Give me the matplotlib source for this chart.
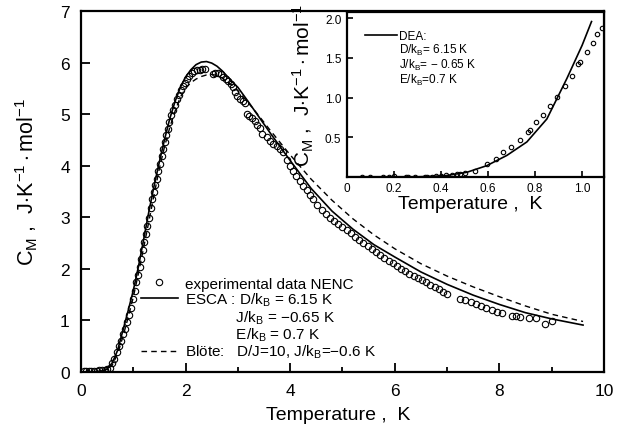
import matplotlib
matplotlib.use("Agg")
import matplotlib.pyplot as plt
from matplotlib.lines import Line2D

plt.rcParams['font.family'] = ['Liberation Sans', 'DejaVu Sans']
plt.rcParams['mathtext.fontset'] = 'custom'
plt.rcParams['mathtext.rm'] = 'Liberation Sans'
plt.rcParams['mathtext.it'] = 'Liberation Sans:italic'

# experimental data NENC (main panel)
exp_T = [0.05, 0.1, 0.15, 0.2, 0.25, 0.3, 0.35, 0.4, 0.45, 0.5, 0.55,
         0.60, 0.64, 0.68, 0.72, 0.76, 0.80, 0.84, 0.88, 0.92, 0.96, 1.00,
         1.03, 1.06, 1.09, 1.12, 1.15, 1.18, 1.21, 1.24, 1.27, 1.30, 1.33,
         1.36, 1.39, 1.42, 1.45, 1.48, 1.51, 1.54, 1.57, 1.60, 1.63, 1.66,
         1.69, 1.72, 1.75, 1.79, 1.83, 1.87, 1.91, 1.95, 1.99, 2.03, 2.07,
         2.12, 2.17, 2.22, 2.27, 2.32, 2.37,
         2.52, 2.57, 2.62, 2.67, 2.72, 2.77, 2.82, 2.87, 2.91, 2.95, 2.99,
         3.04, 3.09, 3.14, 3.17, 3.22, 3.27, 3.32, 3.37, 3.42, 3.47, 3.56,
         3.62, 3.68, 3.74, 3.80, 3.86, 3.94, 4.00, 4.06, 4.12, 4.18, 4.25,
         4.32, 4.38, 4.44, 4.52, 4.60, 4.68, 4.76, 4.84, 4.92, 5.00, 5.08,
         5.16, 5.24, 5.32, 5.40, 5.48, 5.56, 5.64, 5.72, 5.80, 5.88, 5.96,
         6.04, 6.12, 6.20, 6.28, 6.36, 6.44, 6.52, 6.60, 6.68, 6.76, 6.84,
         6.92, 7.00,
         7.25, 7.35, 7.45, 7.55, 7.65, 7.75, 7.85, 7.95, 8.05, 8.25, 8.32,
         8.40, 8.56, 8.70, 8.87, 9.00]
exp_C = [0.02, 0.02, 0.02, 0.02, 0.02, 0.02, 0.03, 0.03, 0.04, 0.05, 0.08,
         0.17, 0.26, 0.38, 0.50, 0.61, 0.73, 0.84, 0.97, 1.11, 1.25, 1.42,
         1.58, 1.74, 1.88, 2.03, 2.20, 2.37, 2.53, 2.68, 2.83, 2.99, 3.18,
         3.35, 3.50, 3.62, 3.75, 3.90, 4.04, 4.18, 4.32, 4.46, 4.60, 4.72,
         4.85, 4.98, 5.08, 5.18, 5.29, 5.38, 5.46, 5.54, 5.61, 5.68, 5.74,
         5.79, 5.83, 5.85, 5.86, 5.87, 5.88,
         5.78, 5.80, 5.79, 5.78, 5.72, 5.68, 5.64, 5.58, 5.52, 5.43, 5.36,
         5.30, 5.26, 5.22, 5.00, 4.96, 4.92, 4.86, 4.79, 4.74, 4.62, 4.55,
         4.48, 4.43, 4.38, 4.32, 4.26, 4.12, 4.00, 3.89, 3.80, 3.71, 3.61,
         3.52, 3.43, 3.35, 3.24, 3.15, 3.07, 2.99, 2.93, 2.87, 2.81, 2.75,
         2.69, 2.62, 2.56, 2.50, 2.44, 2.38, 2.33, 2.27, 2.22, 2.16, 2.11,
         2.05, 2.00, 1.95, 1.91, 1.86, 1.82, 1.78, 1.74, 1.69, 1.65, 1.61,
         1.56, 1.52,
         1.42, 1.39, 1.36, 1.32, 1.28, 1.24, 1.20, 1.17, 1.14, 1.08, 1.08,
         1.07, 1.05, 1.04, 0.93, 0.99]

# ESCA fit (solid) and Blote (dashed)
fit_T = [0.0, 0.2, 0.3, 0.4, 0.5, 0.6, 0.7, 0.8, 0.9, 1.0, 1.1, 1.2, 1.3,
         1.4, 1.5, 1.6, 1.7, 1.8, 1.9, 2.0, 2.1, 2.2, 2.3, 2.4, 2.5, 2.6,
         2.7, 2.8, 2.9, 3.0, 3.2, 3.4, 3.6, 3.8, 4.0, 4.4, 4.8, 5.2, 5.6,
         6.0, 6.5, 7.0, 7.5, 8.0, 8.5, 9.0, 9.6]
esca_C = [0.0, 0.0, 0.005, 0.02, 0.06, 0.18, 0.42, 0.80, 1.18, 1.58, 2.05,
          2.58, 3.12, 3.62, 4.08, 4.52, 4.92, 5.25, 5.52, 5.72, 5.86, 5.96,
          6.01, 6.02, 5.99, 5.93, 5.84, 5.73, 5.62, 5.52, 5.24, 4.95, 4.66,
          4.38, 4.10, 3.56, 3.12, 2.77, 2.47, 2.23, 1.94, 1.70, 1.49, 1.31,
          1.15, 1.03, 0.91]
blote_C = [0.0, 0.0, 0.005, 0.015, 0.05, 0.14, 0.35, 0.68, 1.05, 1.45, 1.92,
           2.42, 2.93, 3.45, 3.95, 4.38, 4.75, 5.06, 5.33, 5.50, 5.61, 5.68,
           5.73, 5.76, 5.77, 5.75, 5.70, 5.63, 5.55, 5.45, 5.22, 4.97, 4.71,
           4.46, 4.21, 3.74, 3.33, 2.97, 2.66, 2.39, 2.10, 1.86, 1.65, 1.46,
           1.28, 1.12, 0.98]

# inset: low temperature data and DEA curve
ins_T = [0.065, 0.098, 0.155, 0.18, 0.20, 0.25, 0.26, 0.29, 0.33, 0.34, 0.36,
         0.38, 0.40, 0.42, 0.445, 0.467, 0.48, 0.50, 0.545, 0.594, 0.633,
         0.663, 0.697, 0.736, 0.769, 0.779, 0.804, 0.835, 0.864, 0.892,
         0.928, 0.956, 0.984, 0.99, 1.02, 1.045, 1.063, 1.084]
ins_C = [0.0, 0.0, 0.0, 0.0, 0.01, 0.0, 0.0, 0.0, 0.0, 0.0, 0.0,
         0.01, 0.014, 0.02, 0.027, 0.035, 0.04, 0.048, 0.077, 0.16, 0.23,
         0.31, 0.37, 0.46, 0.56, 0.59, 0.69, 0.78, 0.89, 1.01,
         1.15, 1.27, 1.42, 1.45, 1.58, 1.69, 1.80, 1.88]
dea_T = [0.0, 0.2, 0.3, 0.35, 0.42, 0.51, 0.594, 0.68, 0.765, 0.85, 0.935,
         1.0, 1.04]
dea_C = [0.0, 0.0, 0.0, 0.004, 0.014, 0.057, 0.14, 0.27, 0.44, 0.73, 1.24,
         1.66, 1.96]

ylab = r"C$_\mathrm{M}$ ,  J$\cdot$K$^{-1}\cdot$mol$^{-1}$"
xlab = "Temperature ,  K"

fig = plt.figure(figsize=(6.21, 4.35), dpi=100)
ax = fig.add_axes([0.1304, 0.1425, 0.8422, 0.8299])

ax.plot(exp_T, exp_C, 'o', mfc='none', mec='k', ms=4.6, mew=0.8,
        label='experimental data NENC')
ax.plot(fit_T, esca_C, '-', color='k', lw=1.2)
ax.plot(fit_T, blote_C, color='k', lw=1.0, dashes=(4, 3))

ax.set_xlim(0, 10)
ax.set_ylim(0, 7)
ax.set_xticks([0, 2, 4, 6, 8, 10])
ax.set_xticks([1, 3, 5, 7, 9], minor=True)
ax.set_yticks(range(8))
ax.tick_params(which='both', direction='in', width=1.3, labelsize=12.5,
               top=False, right=False)
ax.tick_params(which='major', length=6.5)
ax.tick_params(axis='x', which='major', pad=8)
ax.tick_params(axis='y', which='major', pad=8)
ax.tick_params(axis='x', which='minor', length=3.5)
for s in ax.spines.values():
    s.set_linewidth(1.6)
ax.set_xlabel(xlab, fontsize=14)
ax.set_ylabel(ylab, fontsize=15.5)
ax.xaxis.set_label_coords(0.492, -0.095)
ax.yaxis.set_label_coords(-0.078, 0.53)

handles = [Line2D([], [], ls='none', marker='o', mfc='none', mec='k', ms=4.6, mew=0.8),
           Line2D([], [], color='k', lw=1.2),
           Line2D([], [], ls='none'),
           Line2D([], [], ls='none'),
           Line2D([], [], color='k', lw=1.0, dashes=(4, 3))]
labels = ['experimental data NENC',
          r'ESCA : D/k$_\mathrm{B}$ = 6.15 K',
          r'            J/k$_\mathrm{B}$ = $-$0.65 K',
          r'            E/k$_\mathrm{B}$ = 0.7 K',
          r'Blöte:   D/J=10, J/k$_\mathrm{B}$=$-$0.6 K']
ax.legend(handles, labels, loc='upper left', bbox_to_anchor=(0.115, 0.264),
          frameon=False, fontsize=11, handlelength=2.4, handletextpad=0.45,
          labelspacing=0.0, borderpad=0, borderaxespad=0)

# inset
axi = fig.add_axes([0.5588, 0.5913, 0.4138, 0.3787])
axi.plot(ins_T, ins_C, 'o', mfc='none', mec='k', ms=3.2, mew=0.8)
axi.plot(dea_T, dea_C, '-', color='k', lw=1.2)
axi.set_xlim(0, 1.093)
axi.set_ylim(0, 2.08)
axi.set_xticks([0, 0.2, 0.4, 0.6, 0.8, 1.0])
axi.set_xticklabels(['0', '0.2', '0.4', '0.6', '0.8', '1.0'])
axi.set_yticks([0.5, 1.0, 1.5, 2.0])
axi.tick_params(direction='in', length=4, width=1.2, labelsize=8.5, pad=4,
                top=False, right=False)
for s in axi.spines.values():
    s.set_linewidth(1.6)
axi.set_xlabel(xlab, fontsize=14)
axi.set_ylabel(ylab, fontsize=15)
axi.xaxis.set_label_coords(0.48, -0.11)
axi.yaxis.set_label_coords(-0.12, 0.56)

ihandles = [Line2D([], [], color='k', lw=1.2),
            Line2D([], [], ls='none'),
            Line2D([], [], ls='none'),
            Line2D([], [], ls='none')]
ilabels = ['DEA:',
           r'D/k$_\mathrm{B}$= 6.15 K',
           r'J/k$_\mathrm{B}$= $-$ 0.65 K',
           r'E/k$_\mathrm{B}$=0.7 K']
axi.legend(ihandles, ilabels, loc='upper left', bbox_to_anchor=(0.07, 0.89),
           frameon=False, fontsize=8.5, handlelength=2.7, handletextpad=0.2,
           labelspacing=0.0, borderpad=0, borderaxespad=0)

fig.savefig('out.png', dpi=100)
